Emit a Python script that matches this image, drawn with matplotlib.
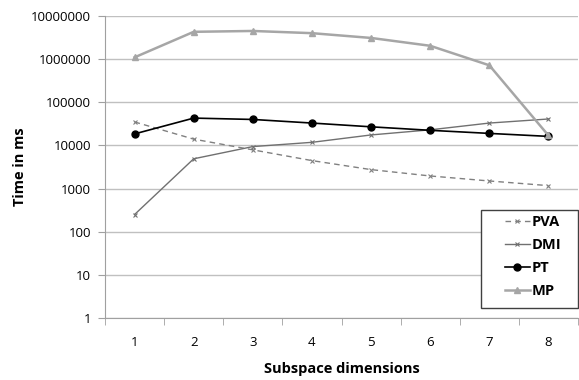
import matplotlib
matplotlib.use("Agg")
import matplotlib.pyplot as plt
from matplotlib.patches import Rectangle
from matplotlib.ticker import FixedLocator, NullLocator

plt.rcParams['font.family'] = ['Open Sans', 'DejaVu Sans']

dims = [1, 2, 3, 4, 5, 6, 7, 8]
pva = [35000, 14000, 7900, 4450, 2750, 1960, 1500, 1170]
dmi = [250, 4900, 9400, 11800, 17500, 23000, 33000, 41000]
pt = [18500, 43000, 40000, 33000, 27000, 22400, 19000, 16200]
mp = [1100000, 4300000, 4500000, 4000000, 3100000, 2040000, 720000, 17000]
yticks = [1, 10, 100, 1000, 10000, 100000, 1000000, 10000000]

W, H = 579, 380
fig = plt.figure(figsize=(W / 100, H / 100), dpi=100)
ax = fig.add_axes([105/W, 62/H, 473/W, 302/H])

x = list(range(len(dims)))
ax.plot(x, pva, color='#808080', lw=1.0, ls=(0, (4, 3)), marker='x', ms=3.2, mew=0.8, label='PVA')
ax.plot(x, dmi, color='#707070', lw=1.0, marker='x', ms=3.2, mew=0.8, label='DMI')
ax.plot(x, pt, color='black', lw=1.2, marker='o', ms=5, label='PT')
ax.plot(x, mp, color='#a6a6a6', lw=1.8, marker='^', ms=5, label='MP')

ax.set_yscale('log')
ax.set_ylim(1, 10000000)
ax.yaxis.set_major_locator(FixedLocator(yticks))
ax.yaxis.set_minor_locator(NullLocator())
ax.set_yticklabels([str(v) for v in yticks])
ax.set_xlim(-0.5, len(dims) - 0.5)
ax.set_xticks(x)
ax.set_xticklabels([str(d) for d in dims])
ax.xaxis.set_minor_locator(FixedLocator([i - 0.5 for i in range(len(dims) + 1)]))
ax.tick_params(axis='x', which='major', length=0, pad=13, labelsize=9.5)
ax.tick_params(axis='x', which='minor', length=5, color='#a0a0a0', direction='out')
ax.tick_params(axis='y', length=5, color='#a0a0a0', labelsize=9.5, pad=5)

ax.grid(axis='y', color='#c0c0c0', lw=1)
ax.set_axisbelow(True)
for s in ['top', 'right']:
    ax.spines[s].set_visible(False)
for s in ['left', 'bottom']:
    ax.spines[s].set_color('#a0a0a0')

ax.set_xlabel('Subspace dimensions', fontsize=10.5, fontweight='bold', labelpad=9)
ax.set_ylabel('Time in ms', fontsize=10.5, fontweight='bold', labelpad=3)

# legend frame drawn separately for Excel-like padding
frame = Rectangle((481/W, 72/H), 97/W, 98/H, transform=fig.transFigure,
                  facecolor='white', edgecolor='#404040', lw=1.0, zorder=4)
fig.add_artist(frame)
leg = fig.legend(loc='upper left', bbox_to_anchor=(505/W, 1 - 215/H), frameon=False,
                 handlelength=1.7, handletextpad=0.15, borderpad=0.0, borderaxespad=0.0,
                 labelspacing=0.62, prop={'weight': 'bold', 'size': 10.5})
leg.set_zorder(5)

fig.savefig('out.png', dpi=100)
